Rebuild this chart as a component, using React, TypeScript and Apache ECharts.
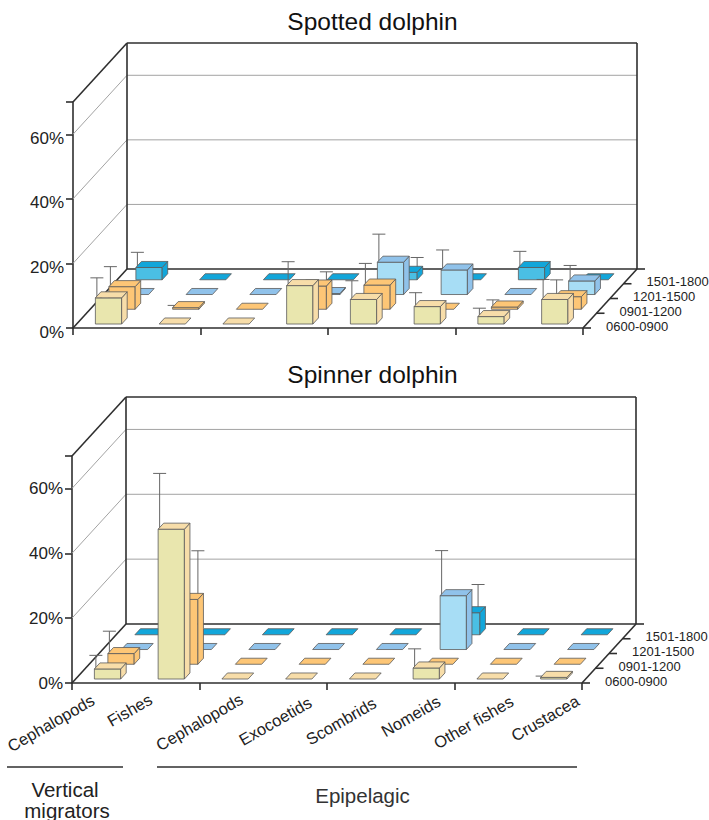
import React, { useEffect, useRef } from "react";
import * as echarts from "echarts";

const categories = ["Cephalopods", "Fishes", "Cephalopods", "Exocoetids", "Scombrids", "Nomeids", "Other fishes", "Crustacea"];
const periods = ["0600-0900", "0901-1200", "1201-1500", "1501-1800"];
const yTicks = [20, 40, 60];

// values in %, one list per time period, one value per prey category
const spotted0600 = [8.1, 0, 0, 11.9, 7.6, 5.4, 2.3, 7.6];
const spotted0901 = [7.0, 0.5, 0, 7.2, 7.5, 0, 0.7, 3.9];
const spotted1201 = [0, 0, 0, 0.3, 10.0, 7.6, 0, 4.2];
const spotted1501 = [3.8, 0, 0, 0, 2.3, 0, 3.8, 0];
// top of the error whisker, in %; 0 means none
const spottedErr0600 = [14.3, 0, 0, 19.3, 13.4, 9.7, 4.9, 13.8];
const spottedErr0901 = [13.2, 1.2, 0, 11.6, 14.2, 0, 2.9, 9.1];
const spottedErr1201 = [0, 0, 0, 0, 18.7, 13.8, 0, 9.0];
const spottedErr1501 = [8.5, 0, 0, 0, 6.9, 0, 8.8, 0];

const spinner0600 = [3.1, 46.2, 0, 0, 0, 3.4, 0, 0.5];
const spinner0901 = [3.3, 20, 0, 0, 0, 0, 0, 0];
const spinner1201 = [0, 0, 0, 0, 0, 16.6, 0, 0];
const spinner1501 = [0, 0, 0, 0, 0, 6.8, 0, 0];
const spinnerErr0600 = [7.3, 63.4, 0, 0, 0, 9.3, 0, 0.9];
const spinnerErr0901 = [10.2, 35, 0, 0, 0, 0, 0, 0];
const spinnerErr1201 = [0, 0, 0, 0, 0, 30.5, 0, 0];
const spinnerErr1501 = [0, 0, 0, 0, 0, 15.5, 0, 0];

const FONT = "Liberation Sans";
const INK = "#222222";
const DX = 13.5;
const DY = 14.75;
const ROWS = 4;
const FRONT = ["#E9E6AE", "#FDC676", "#A7DDF5", "#4ABFE4"];
const TOPS = ["#F7DDA9", "#FDC676", "#90C2EA", "#12A6DA"];
const SIDES = ["#F7DDA9", "#FDC676", "#90C2EA", "#12A6DA"];
const EDGE = "#5a5a5a";
const U0 = 0.294;
const U1 = 0.706;
const D0 = 0.27;
const D1 = 0.68;
// centre offset (px) of each rotated label from its category centre
const LABEL_DX = [-53, -38, -32, -20, -18, -12, -13, -5];
const LABEL_Y = [40, 27, 39, 38, 38, 33, 39, 35];

const whiskerAnchor: any[] = [
  { "3-1": 1, "4-3": 1 },
  { "1-1": 1, "5-3": 0.93 },
];

function barItem(chartIdx: number, row: number) {
  return (params: any, api: any) => {
    const cat = api.value(0);
    const v = api.value(1);
    const err = api.value(2);
    const step = api.size([1, 0])[0];
    const left = api.coord([cat, 0])[0] - step / 2;
    const P = (u: number, d: number, val: number) => {
      const c = api.coord([cat, val]);
      return [left + u * step + (row + d) * DX, c[1] - (row + d) * DY];
    };
    const style = (fill: string) => ({ fill, stroke: EDGE, lineWidth: 0.8 });
    const children: any[] = [];
    if (err > 0) {
      const a = whiskerAnchor[chartIdx][`${cat}-${row}`];
      const fx = a === undefined ? 1.5 : a * (U1 - U0) * step;
      const b = P(U0, D0, v);
      const t = P(U0, D0, err);
      const x = b[0] + fx;
      children.push({
        type: "line",
        shape: { x1: x, y1: b[1], x2: x, y2: t[1] },
        style: { stroke: "#666", lineWidth: 1 },
      });
      children.push({
        type: "line",
        shape: { x1: x - 6.5, y1: t[1], x2: x + 6.5, y2: t[1] },
        style: { stroke: "#666", lineWidth: 1 },
      });
    }
    const poly = (pts: number[][], fill: string) => ({
      type: "polygon",
      shape: { points: pts },
      style: style(fill),
    });
    if (v > 0) {
      children.push(poly([P(U0, D0, 0), P(U1, D0, 0), P(U1, D0, v), P(U0, D0, v)], FRONT[row]));
      children.push(poly([P(U1, D0, 0), P(U1, D1, 0), P(U1, D1, v), P(U1, D0, v)], SIDES[row]));
    }
    children.push(poly([P(U0, D0, v), P(U1, D0, v), P(U1, D1, v), P(U0, D1, v)], TOPS[row]));
    return { type: "group", children };
  };
}

function frameItem(showLabels: boolean) {
  return (params: any, api: any) => {
    const n = categories.length;
    const step = api.size([1, 0])[0];
    const x0 = api.coord([0, 0])[0] - step / 2;
    const x1 = x0 + step * n;
    const y0 = api.coord([0, 0])[1];
    const yTop = api.coord([0, 70])[1];
    const bx = ROWS * DX;
    const by = ROWS * DY;
    const dark = { stroke: "#2f2f2f", lineWidth: 1.6 };
    const grey = { stroke: "#a3a3a3", lineWidth: 1 };
    const line = (a: number, b: number, c: number, d: number, s: any) => ({
      type: "line",
      shape: { x1: a, y1: b, x2: c, y2: d },
      style: s,
    });
    const ch: any[] = [];
    yTicks.forEach((t) => {
      const y = api.coord([0, t])[1];
      ch.push(line(x0, y, x0 + bx, y - by, grey));
      ch.push(line(x0 + bx, y - by, x1 + bx, y - by, grey));
    });
    ch.push(line(x0, y0, x0 + bx, y0 - by, dark));
    ch.push(line(x1, y0, x1 + bx, y0 - by, dark));
    ch.push(line(x0 + bx, y0 - by, x1 + bx, y0 - by, dark));
    ch.push(line(x0 + bx, y0 - by, x0 + bx, yTop - by, dark));
    ch.push(line(x1 + bx, y0 - by, x1 + bx, yTop - by, dark));
    ch.push(line(x0 + bx, yTop - by, x1 + bx, yTop - by, dark));
    ch.push(line(x0, yTop, x0 + bx, yTop - by, dark));
    for (let k = 0; k <= ROWS; k++) {
      const cx = x1 + k * DX;
      const cy = y0 - k * DY;
      ch.push(line(cx, cy, cx + 8, cy, dark));
      if (k < ROWS) {
        ch.push({
          type: "text",
          style: {
            text: periods[k],
            x: cx + 23,
            y: cy - 2,
            fill: INK,
            fontSize: 13,
            fontFamily: FONT,
            textAlign: "left",
            textVerticalAlign: "middle",
          },
        });
      }
    }
    if (showLabels) {
      categories.forEach((c, i) => {
        ch.push({
          type: "text",
          x: x0 + (i + 0.5) * step + LABEL_DX[i],
          y: y0 + LABEL_Y[i],
          rotation: (30 * Math.PI) / 180,
          style: {
            text: c,
            fill: INK,
            fontSize: 16.5,
            fontFamily: FONT,
            textAlign: "center",
            textVerticalAlign: "middle",
          },
        });
      });
    }
    return { type: "group", children: ch };
  };
}

function buildSeries(chartIdx: number, vals: number[][], errs: number[][]) {
  const out: any[] = [
    {
      type: "custom",
      xAxisIndex: chartIdx,
      yAxisIndex: chartIdx,
      silent: true,
      z: 1,
      clip: false,
      data: [[0, 0]],
      renderItem: frameItem(chartIdx === 1),
    },
  ];
  for (let row = ROWS - 1; row >= 0; row--) {
    out.push({
      type: "custom",
      name: periods[row],
      xAxisIndex: chartIdx,
      yAxisIndex: chartIdx,
      silent: true,
      z: 2 + (ROWS - row),
      clip: false,
      data: vals[row].map((v, i) => [i, v, errs[row][i]]),
      renderItem: barItem(chartIdx, row),
    });
  }
  return out;
}

const axisLine = { show: true, lineStyle: { color: "#2f2f2f", width: 1.6 } };
const axisTick = (len: number) => ({ show: true, length: len, lineStyle: { color: "#2f2f2f", width: 1.6 } });

function xAxis(gridIndex: number) {
  return {
    type: "category",
    gridIndex,
    data: categories,
    boundaryGap: true,
    axisLine,
    axisTick: axisTick(7),
    axisLabel: { show: false },
    splitLine: { show: false },
  };
}
function yAxis(gridIndex: number) {
  return {
    type: "value",
    gridIndex,
    min: 0,
    max: 70,
    interval: 20,
    axisLine,
    axisTick: axisTick(7),
    splitLine: { show: false },
    axisLabel: {
      margin: 9,
      color: INK,
      fontSize: 17,
      fontFamily: FONT,
      ...(gridIndex === 0 ? { verticalAlign: "top", lineHeight: 8 } : { verticalAlign: "middle" }),
      formatter: (v: number) => (v === 70 ? "" : `${v}%`),
    },
  };
}

const groupText = (text: string, x: number, y: number, fill = INK) => ({
  type: "text",
  x,
  y,
  style: { text, fill, fontSize: 20.5, fontFamily: FONT, textAlign: "center", textVerticalAlign: "middle" },
});
const groupLine = (x1: number, x2: number, y: number) => ({
  type: "line",
  shape: { x1, y1: y, x2, y2: y },
  style: { stroke: "#2f2f2f", lineWidth: 1.5 },
});

export default function App() {
  const ref = useRef<HTMLDivElement>(null);
  useEffect(() => {
    const chart = echarts.init(ref.current as HTMLDivElement, undefined, { renderer: "svg" });
    const titleStyle = { color: "#111", fontSize: 24.5, fontWeight: "normal" as const, fontFamily: FONT };
    chart.setOption({
      animation: false,
      backgroundColor: "#fff",
      title: [
        { text: "Spotted dolphin", left: 367.5, top: 4, textAlign: "center", textStyle: titleStyle },
        { text: "Spinner dolphin", left: 367.5, top: 357, textAlign: "center", textStyle: titleStyle },
      ],
      grid: [
        { left: 73, top: 102, width: 510, height: 226 },
        { left: 72, top: 456, width: 510, height: 227 },
      ],
      xAxis: [xAxis(0), xAxis(1)],
      yAxis: [yAxis(0), yAxis(1)],
      series: [
        ...buildSeries(
          0,
          [spotted0600, spotted0901, spotted1201, spotted1501],
          [spottedErr0600, spottedErr0901, spottedErr1201, spottedErr1501]
        ),
        ...buildSeries(
          1,
          [spinner0600, spinner0901, spinner1201, spinner1501],
          [spinnerErr0600, spinnerErr0901, spinnerErr1201, spinnerErr1501]
        ),
      ],
      graphic: [
        groupLine(7, 123, 767),
        groupLine(157, 577, 767),
        groupText("Vertical", 65, 789),
        groupText("migrators", 67, 810),
        groupText("Epipelagic", 362.5, 795, "#333"),
      ],
    });
    return () => chart.dispose();
  }, []);
  return <div ref={ref} style={{ position: "absolute", left: 0, top: 0, width: 709, height: 820 }} />;
}
